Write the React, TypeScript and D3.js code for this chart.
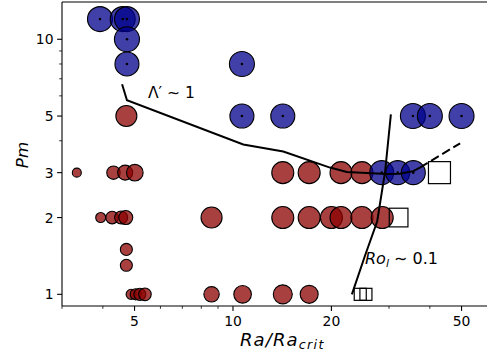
import React from 'react';
import * as d3 from 'd3';

// ---- data ----
// red (non-dynamo) runs: Ra/Ra_crit, Pm, marker size s (pt^2)
const redRa = [4.72, 3.33, 4.31, 4.68, 5.01, 14.2, 17.1, 21.4, 24.8, 3.94, 4.27, 4.55, 4.70, 8.6, 14.2, 17.1, 20.0, 21.4, 24.8, 28.6, 4.72, 4.72, 4.88, 5.04, 5.19, 5.38, 8.6, 10.7, 14.2, 17.1];
const redPm = [5, 3, 3, 3, 3, 3, 3, 3, 3, 2, 2, 2, 2, 2, 2, 2, 2, 2, 2, 2, 1.5, 1.3, 1, 1, 1, 1, 1, 1, 1, 1];
const redS = [229, 42, 93, 117, 143, 251, 251, 251, 251, 52, 82, 88, 102, 229, 251, 251, 251, 251, 251, 251, 75, 75, 52, 63, 75, 82, 123, 161, 187, 168];

// blue (dynamo) runs
const blueRa = [3.92, 4.6, 4.74, 4.74, 4.74, 10.65, 10.65, 14.2, 35.5, 40, 50, 28.5, 31.9, 35.6];
const bluePm = [12, 12, 12, 10, 8, 8, 5, 5, 5, 5, 5, 3, 3, 3];
const blueS = [324, 324, 324, 324, 299, 324, 299, 299, 324, 324, 324, 299, 299, 299];

// open squares
const sqRa = [42.8, 32.1, 24.5, 25.5];
const sqPm = [3, 2, 1, 1];
const sqS = [251, 181, 75, 75];

// Lambda' ~ 1 boundary
const lamRa = [4.58, 4.74, 10.75, 14.25, 19.8, 22.3, 29.5, 32.4, 35.6, 37.3];
const lamPm = [6.66, 5.77, 3.87, 3.63, 3.14, 3.02, 2.96, 2.97, 3.04, 3.14];
const lamDashRa = [37.3, 49.5];
const lamDashPm = [3.14, 3.91];

// Ro_l ~ 0.1 boundary
const roRa = [23.1, 25.3, 27.6, 29.2, 30.4];
const roPm = [1.0, 1.41, 1.93, 3.04, 5.08];

const xTickLabels = [5, 10, 20, 50];
const xMinor = [3, 4, 6, 7, 8, 9, 30, 40, 60, 70];
const yTickLabels = [1, 2, 3, 5, 10];
const yMinor = [4, 6, 7, 8, 9];

const W = 487, H = 354;
const L = 62, T = 2, B = 306;
const pxPerPt = 100 / 72;

export default function App() {
  const x = d3.scaleLog().domain([3, 70]).range([L, L + 327 * Math.log10(70 / 3)]);
  const y = d3.scaleLog().domain([0.9, 14]).range([B, T]);
  const R = x.range()[1];
  const diam = d3.scaleSqrt().domain([0, 400]).range([0, 20 * pxPerPt]);

  const line = d3.line<[number, number]>().x(d => x(d[0])).y(d => y(d[1]));
  const zip = (a: number[], b: number[]) => a.map((v, i) => [v, b[i]] as [number, number]);

  const font = 'DejaVu Sans, sans-serif';
  const tickCol = '#000';

  return (
    <svg width={W} height={H} style={{ position: 'absolute', left: 0, top: 0, background: '#fff' }} fontFamily={font}>
      <defs>
        <clipPath id="plot">
          <rect x={L} y={T} width={R - L} height={B - T} />
        </clipPath>
      </defs>
      <rect x={0} y={0} width={W} height={H} fill="#fff" />
      <g clipPath="url(#plot)">
        {redRa.map((v, i) => (
          <circle key={'r' + i} cx={x(v)} cy={y(redPm[i])} r={diam(redS[i]) / 2}
            fill="darkred" fillOpacity={0.75} stroke="#000" strokeWidth={1.1} />
        ))}
        {blueRa.map((v, i) => (
          <circle key={'b' + i} cx={x(v)} cy={y(bluePm[i])} r={diam(blueS[i]) / 2}
            fill="darkblue" fillOpacity={0.75} stroke="#000" strokeWidth={1.1} />
        ))}
        {blueRa.map((v, i) => (
          <circle key={'d' + i} cx={x(v)} cy={y(bluePm[i])} r={1.3} fill="#000" />
        ))}
        <path d={line(zip(lamRa, lamPm)) || ''} fill="none" stroke="#000" strokeWidth={2} />
        <path d={line(zip(lamDashRa, lamDashPm)) || ''} fill="none" stroke="#000" strokeWidth={2} strokeDasharray="9,4" />
        <path d={line(zip(roRa, roPm)) || ''} fill="none" stroke="#000" strokeWidth={2} />
        {sqRa.map((v, i) => {
          const s = diam(sqS[i]);
          return <rect key={'s' + i} x={x(v) - s / 2} y={y(sqPm[i]) - s / 2} width={s} height={s}
            fill="none" stroke="#000" strokeWidth={1.2} />;
        })}
      </g>
      {/* spines */}
      <line x1={L} x2={L} y1={T} y2={B} stroke="#000" strokeWidth={1.1} />
      <line x1={L} x2={R} y1={B} y2={B} stroke="#000" strokeWidth={1.1} />
      <line x1={L} x2={R} y1={T} y2={T} stroke="#000" strokeWidth={1.1} />
      {/* x ticks */}
      {xTickLabels.map(v => (
        <g key={'xt' + v}>
          <line x1={x(v)} x2={x(v)} y1={B} y2={B + 4.9} stroke={tickCol} strokeWidth={1.1} />
          <text x={x(v)} y={326} textAnchor="middle" fontSize={13.9} fill="#000">{v}</text>
        </g>
      ))}
      {xMinor.map(v => (
        <line key={'xm' + v} x1={x(v)} x2={x(v)} y1={B} y2={B + 2.8} stroke={tickCol} strokeWidth={0.8} />
      ))}
      {/* y ticks */}
      {yTickLabels.map(v => (
        <g key={'yt' + v}>
          <line x1={L - 4.9} x2={L} y1={y(v)} y2={y(v)} stroke={tickCol} strokeWidth={1.1} />
          <text x={L - 8.5} y={y(v) + 5} textAnchor="end" fontSize={13.9} fill="#000">{v}</text>
        </g>
      ))}
      {yMinor.map(v => (
        <line key={'ym' + v} x1={L - 2.8} x2={L} y1={y(v)} y2={y(v)} stroke={tickCol} strokeWidth={0.8} />
      ))}
      {/* axis labels */}
      <text x={240} y={345.5} fontSize={18} fontStyle="italic" fill="#000" letterSpacing={1.1}>
        Ra/Ra<tspan fontSize={12.6} dy={3.5} letterSpacing={1.4}>crit</tspan>
      </text>
      <text transform="translate(28,155) rotate(-90)" textAnchor="middle" fontSize={16.7} fontStyle="italic" fill="#000">Pm</text>
      {/* annotations */}
      <text x={148} y={98} fontSize={15.5} fill="#000">Λ′ ∼ 1</text>
      <text x={365} y={264} fontSize={16} fill="#000">
        <tspan fontStyle="italic">Ro</tspan><tspan fontStyle="italic" fontSize={11} dy={3}>l</tspan><tspan dy={-3}> ∼ 0.1</tspan>
      </text>
    </svg>
  );
}
